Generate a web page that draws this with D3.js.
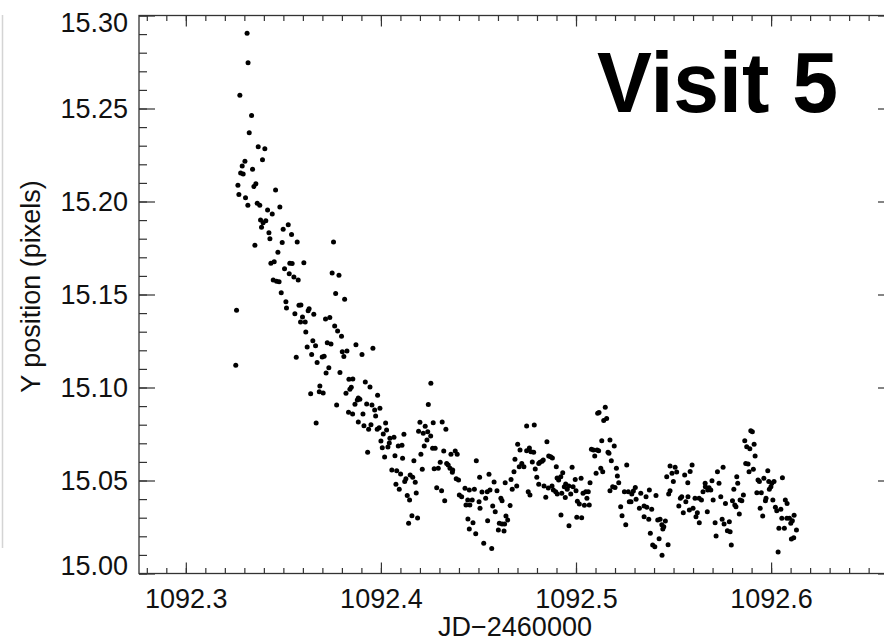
<!DOCTYPE html>
<html>
<head>
<meta charset="utf-8">
<script src="https://cdn.jsdelivr.net/npm/d3@7"></script>
<style>
  body { margin: 0; background: #fff; }
  text { font-family: "Liberation Sans", Arial, Helvetica, sans-serif; }
</style>
</head>
<body>
<svg id="chart" width="884" height="643"></svg>
<script>
// JD-2460000 of each exposure
const jd = [
  1092.3314,1092.3319,1092.3277,1092.3337,1092.3325,1092.3371,1092.3405,1092.3393,1092.3303,1092.3289,
  1092.3342,1092.3281,1092.3294,1092.3267,1092.3359,1092.3349,1092.3460,1092.3272,1092.3306,1092.3318,
  1092.3366,1092.3379,1092.3419,1092.3443,1092.3482,1092.3383,1092.3396,1092.3410,1092.3388,1092.3525,
  1092.3426,1092.3499,1092.3431,1092.3542,1092.3494,1092.3571,1092.3354,1092.3757,1092.3472,1092.3436,
  1092.3453,1092.3533,1092.3545,1092.3605,1092.3506,1092.3530,1092.3554,1092.3576,1092.3448,1092.3465,
  1092.3478,1092.3750,1092.3785,1092.3489,1092.3768,1092.3814,1092.3513,1092.3516,1092.3580,1092.3590,
  1092.3632,1092.3627,1092.3260,1092.3559,1092.3656,1092.3598,1092.3716,1092.3738,1092.3588,1092.3612,
  1092.3763,1092.3778,1092.3615,1092.3798,1092.3651,1092.3725,1092.3744,1092.3872,1092.3622,1092.3665,
  1092.3959,1092.3802,1092.3826,1092.3645,1092.3903,1092.3810,1092.3566,1092.3699,1092.3709,1092.3673,
  1092.3256,1092.3733,1092.3719,1092.3790,1092.3836,1092.3856,1092.3687,1092.3640,1092.3684,1092.3704,
  1092.3848,1092.3841,1092.3920,1092.3944,1092.3821,1092.3983,1092.3884,1092.3892,1092.3879,1092.3773,
  1092.3867,1092.3927,1092.3954,1092.3968,1092.3995,1092.3834,1092.3855,1092.3908,1092.3973,1092.3668,
  1092.3884,1092.3949,1092.3913,1092.4024,1092.3937,1092.3981,1092.3991,1092.4029,1092.4012,1092.4118,
  1092.4046,1092.4067,1092.4000,1092.4043,1092.4007,1092.4036,1092.4089,1092.4108,1092.3932,1092.4072,
  1092.4019,1092.4111,1092.4169,1092.4056,1092.4081,1092.4101,1092.4150,1092.4163,1092.4128,1092.4122,
  1092.4176,1092.4077,1092.4094,1092.4181,1092.4135,1092.4147,1092.4159,1092.4188,1092.4142,1092.4212,
  1092.4243,1092.4200,1092.4193,1092.4227,1092.4217,1092.4240,1092.4236,1092.4222,1092.4205,1092.4256,
  1092.4268,1092.4314,1092.4333,1092.4255,1092.4265,1092.4278,1092.4304,1092.4322,1092.4337,1092.4345,
  1092.4354,1092.4368,1092.4359,1092.4381,1092.4391,1092.4294,1092.4273,1092.4286,1092.4311,1092.4327,
  1092.4386,1092.4398,1092.4366,1092.4402,1092.4414,1092.4431,1092.4453,1092.4479,1092.4489,1092.4506,
  1092.4436,1092.4456,1092.4445,1092.4468,1092.4503,1092.4446,1092.4453,1092.4472,1092.4486,1092.4518,
  1092.4537,1092.4545,1092.4554,1092.4508,1092.4527,1092.4547,1092.4568,1092.4559,1092.4580,1092.4573,
  1092.4586,1092.4595,1092.4602,1092.4607,1092.4615,1092.4621,1092.4631,1092.4621,1092.4634,1092.4641,
  1092.4650,1092.4637,1092.4662,1092.4673,1092.4667,1092.4682,1092.4687,1092.4696,1092.4701,1092.4709,
  1092.4713,1092.4722,1092.4733,1092.4747,1092.4755,1092.4764,1092.4747,1092.4761,1092.4769,1092.4783,
  1092.4776,1092.4786,1092.4791,1092.4799,1092.4809,1092.4809,1092.4815,1092.4826,1092.4832,1092.4845,
  1092.4851,1092.4836,1092.4860,1092.4870,1092.4879,1092.4858,1092.4877,1092.4899,1092.4884,1092.4896,
  1092.4903,1092.4911,1092.4904,1092.4922,1092.4923,1092.4932,1092.4927,1092.4940,1092.4945,1092.4947,
  1092.4955,1092.4963,1092.4964,1092.4973,1092.4980,1092.4985,1092.4996,1092.5000,1092.5004,1092.5007,
  1092.5017,1092.5026,1092.5029,1092.5036,1092.5043,1092.5050,1092.5056,1092.5063,1092.5068,1092.5072,
  1092.5079,1092.5089,1092.5096,1092.5103,1092.5108,1092.5111,1092.5116,1092.5118,1092.5127,1092.5132,
  1092.5137,1092.5142,1092.5150,1092.5157,1092.5164,1092.5169,1092.5174,1092.5181,1092.5174,1092.5188,
  1092.5196,1092.5200,1092.5207,1092.5212,1092.5219,1092.5229,1092.5236,1092.5248,1092.5255,1092.5260,
  1092.5268,1092.5273,1092.5286,1092.5294,1092.5304,1092.5282,1092.5308,1092.5332,1092.5325,1092.5349,
  1092.5359,1092.5349,1092.5363,1092.5376,1092.5373,1092.5388,1092.5410,1092.5381,1092.5393,1092.5404,
  1092.5426,1092.5419,1092.5431,1092.5440,1092.5458,1092.5450,1092.5445,1092.5472,1092.5441,1092.5465,
  1092.5475,1092.5482,1092.5482,1092.5499,1092.5492,1092.5508,1092.5516,1092.5527,1092.5535,1092.5542,
  1092.5550,1092.5563,1092.5557,1092.5573,1092.5581,1092.5585,1092.5595,1092.5574,1092.5600,1092.5610,
  1092.5615,1092.5622,1092.5632,1092.5631,1092.5643,1092.5651,1092.5662,1092.5663,1092.5673,1092.5675,
  1092.5682,1092.5691,1092.5697,1092.5703,1092.5713,1092.5718,1092.5725,1092.5733,1092.5742,1092.5749,
  1092.5754,1092.5759,1092.5766,1092.5776,1092.5786,1092.5790,1092.5796,1092.5802,1092.5809,1092.5814,
  1092.5820,1092.5824,1092.5829,1092.5837,1092.5841,1092.5850,1092.5858,1092.5865,1092.5870,1092.5875,
  1092.5882,1092.5891,1092.5887,1092.5896,1092.5904,1092.5909,1092.5913,1092.5918,1092.5927,1092.5933,
  1092.5944,1092.5940,1092.5950,1092.5957,1092.5963,1092.5971,1092.5974,1092.5983,1092.5988,1092.5991,
  1092.5999,1092.6004,1092.6009,1092.6015,1092.6022,1092.6029,1092.6036,1092.6040,1092.6050,1092.6058,
  1092.6055,1092.6068,1092.6073,1092.6082,1092.6081,1092.6094,1092.6101,1092.6109,1092.6118,1092.6104,
  1092.6116,1092.6130
];

// Y position (pixels)
const ypos = [
  15.2904,15.2746,15.2571,15.2463,15.2370,15.2295,15.2284,15.2225,15.2216,15.2191,
  15.2173,15.2153,15.2148,15.2087,15.2096,15.2080,15.2062,15.2038,15.2020,15.1980,
  15.1990,15.1980,15.1954,15.1933,15.1970,15.1901,15.1886,15.1897,15.1861,15.1875,
  15.1832,15.1851,15.1800,15.1822,15.1779,15.1782,15.1765,15.1782,15.1727,15.1668,
  15.1676,15.1668,15.1666,15.1671,15.1639,15.1612,15.1594,15.1578,15.1578,15.1571,
  15.1569,15.1616,15.1603,15.1510,15.1506,15.1474,15.1461,15.1427,15.1442,15.1444,
  15.1424,15.1413,15.1415,15.1397,15.1394,15.1379,15.1368,15.1377,15.1352,15.1352,
  15.1331,15.1304,15.1298,15.1275,15.1252,15.1241,15.1234,15.1230,15.1218,15.1225,
  15.1211,15.1192,15.1196,15.1178,15.1178,15.1166,15.1162,15.1164,15.1168,15.1135,
  15.1119,15.1106,15.1078,15.1080,15.1044,15.1046,15.1008,15.0967,15.0977,15.0970,
  15.1001,15.0990,15.1030,15.1003,15.0969,15.0958,15.0944,15.0937,15.0933,15.0906,
  15.0910,15.0911,15.0906,15.0879,15.0888,15.0867,15.0858,15.0858,15.0847,15.0809,
  15.0815,15.0800,15.0795,15.0809,15.0775,15.0775,15.0784,15.0772,15.0750,15.0748,
  15.0727,15.0732,15.0712,15.0702,15.0676,15.0680,15.0685,15.0689,15.0652,15.0633,
  15.0626,15.0619,15.0606,15.0556,15.0553,15.0535,15.0530,15.0517,15.0510,15.0494,
  15.0490,15.0480,15.0453,15.0433,15.0420,15.0395,15.0311,15.0298,15.0270,15.0560,
  15.0908,15.0813,15.0765,15.0791,15.0754,15.0762,15.0718,15.0686,15.0641,15.1023,
  15.0811,15.0815,15.0775,15.0739,15.0673,15.0673,15.0598,15.0659,15.0592,15.0583,
  15.0566,15.0556,15.0641,15.0659,15.0641,15.0566,15.0563,15.0461,15.0445,15.0391,
  15.0510,15.0503,15.0544,15.0422,15.0413,15.0458,15.0449,15.0453,15.0606,15.0517,
  15.0368,15.0368,15.0395,15.0395,15.0386,15.0293,15.0239,15.0273,15.0214,15.0438,
  15.0404,15.0440,15.0533,15.0351,15.0162,15.0284,15.0135,15.0449,15.0492,15.0363,
  15.0332,15.0445,15.0234,15.0270,15.0404,15.0391,15.0229,15.0266,15.0266,15.0309,
  15.0288,15.0488,15.0365,15.0453,15.0506,15.0547,15.0614,15.0470,15.0695,15.0574,
  15.0664,15.0592,15.0574,15.0793,15.0440,15.0422,15.0660,15.0675,15.0655,15.0652,
  15.0600,15.0798,15.0562,15.0517,15.0480,15.0592,15.0598,15.0603,15.0610,15.0410,
  15.0709,15.0470,15.0632,15.0628,15.0621,15.0460,15.0470,15.0574,15.0449,15.0440,
  15.0513,15.0503,15.0427,15.0520,15.0315,15.0542,15.0431,15.0467,15.0408,15.0481,
  15.0453,15.0470,15.0257,15.0427,15.0571,15.0467,15.0506,15.0445,15.0302,15.0388,
  15.0374,15.0512,15.0300,15.0431,15.0367,15.0440,15.0404,15.0440,15.0368,15.0488,
  15.0668,15.0664,15.0632,15.0539,15.0664,15.0861,15.0660,15.0865,15.0566,15.0714,
  15.0547,15.0822,15.0894,15.0834,15.0652,15.0646,15.0718,15.0606,15.0445,15.0467,
  15.0685,15.0463,15.0566,15.0524,15.0488,15.0359,15.0311,15.0440,15.0262,15.0583,
  15.0440,15.0386,15.0427,15.0444,15.0463,15.0386,15.0399,15.0431,15.0351,15.0363,
  15.0413,15.0305,15.0356,15.0449,15.0291,15.0345,15.0420,15.0216,15.0153,15.0144,
  15.0187,15.0288,15.0291,15.0262,15.0282,15.0252,15.0239,15.0155,15.0098,15.0520,
  15.0427,15.0445,15.0578,15.0494,15.0539,15.0571,15.0546,15.0363,15.0404,15.0413,
  15.0327,15.0386,15.0530,15.0488,15.0341,15.0549,15.0583,15.0413,15.0351,15.0404,
  15.0305,15.0327,15.0273,15.0404,15.0395,15.0440,15.0485,15.0467,15.0332,15.0449,
  15.0461,15.0449,15.0499,15.0395,15.0273,15.0202,15.0547,15.0485,15.0413,15.0291,
  15.0571,15.0266,15.0377,15.0230,15.0278,15.0225,15.0153,15.0391,15.0453,15.0368,
  15.0359,15.0520,15.0485,15.0320,15.0395,15.0391,15.0422,15.0714,15.0592,15.0682,
  15.0589,15.0671,15.0547,15.0768,15.0762,15.0560,15.0695,15.0632,15.0434,15.0503,
  15.0351,15.0494,15.0434,15.0309,15.0512,15.0391,15.0404,15.0553,15.0494,15.0453,
  15.0467,15.0485,15.0395,15.0494,15.0356,15.0338,15.0116,15.0243,15.0345,15.0515,
  15.0297,15.0243,15.0395,15.0377,15.0297,15.0297,15.0270,15.0284,15.0313,15.0185,
  15.0192,15.0234
];

const xMajor = [1092.3, 1092.4, 1092.5, 1092.6];
const xTickLabels = ["1092.3", "1092.4", "1092.5", "1092.6"];
const yMajor = [15.00, 15.05, 15.10, 15.15, 15.20, 15.25, 15.30];
const yTickLabels = ["15.00", "15.05", "15.10", "15.15", "15.20", "15.25", "15.30"];

const xTitle = "JD\u22122460000";
const yTitle = "Y position (pixels)";
const panelLabel = "Visit 5";

const points = jd.map((d, i) => ({ t: d, v: ypos[i] }));

const svg = d3.select("#chart");
const plotL = 139, plotR = 894, plotT = 15.5, plotB = 573.5;

const x = d3.scaleLinear().domain([1092.276, 1092.663]).range([plotL, plotR]);
const y = d3.scaleLinear().domain([15.0, 15.3]).range([plotB, plotT]);

const xMinor = d3.range(28, 67).map(i => 1092 + i / 100);
const yMinor = d3.range(0, 31).map(i => 15 + i / 100);

const ink = "#333";

// left gray rule at the panel edge
svg.append("line")
  .attr("x1", 2.5).attr("x2", 2.5)
  .attr("y1", 15).attr("y2", 548)
  .attr("stroke", "#d4d4d4").attr("stroke-width", 1.5);

function styleAxis(g) {
  g.select(".domain").remove();
  g.selectAll(".tick line").attr("stroke", ink).attr("stroke-width", 1.2);
  g.selectAll("text").attr("fill", "#111").attr("font-size", 27)
    .attr("font-family", '"Liberation Sans", Arial, sans-serif');
}

// bottom
svg.append("g").attr("transform", `translate(0,${plotB})`)
  .call(d3.axisBottom(x).tickValues(xMinor).tickSize(-5.5).tickFormat(""))
  .call(styleAxis);
svg.append("g").attr("transform", `translate(0,${plotB})`)
  .call(d3.axisBottom(x).tickValues(xMajor).tickSize(-11).tickPadding(15)
    .tickFormat((d, i) => xTickLabels[i]))
  .call(styleAxis);

// top
svg.append("g").attr("transform", `translate(0,${plotT})`)
  .call(d3.axisTop(x).tickValues(xMinor).tickSize(-5.5).tickFormat(""))
  .call(styleAxis);
svg.append("g").attr("transform", `translate(0,${plotT})`)
  .call(d3.axisTop(x).tickValues(xMajor).tickSize(-11).tickFormat(""))
  .call(styleAxis);

// left
svg.append("g").attr("transform", `translate(${plotL},0)`)
  .call(d3.axisLeft(y).tickValues(yMinor).tickSize(-8).tickFormat(""))
  .call(styleAxis);
const yAxisG = svg.append("g").attr("transform", `translate(${plotL},0)`)
  .call(d3.axisLeft(y).tickValues(yMajor).tickSize(-16).tickPadding(11)
    .tickFormat((d, i) => yTickLabels[i]))
  .call(styleAxis);
// end labels are pulled in toward the plot as in the original
yAxisG.selectAll(".tick text")
  .attr("y", (d, i) => i === 0 ? -8 : (i === yMajor.length - 1 ? 7 : 0));

// right
svg.append("g").attr("transform", `translate(${plotR},0)`)
  .call(d3.axisRight(y).tickValues(yMinor).tickSize(-8).tickFormat(""))
  .call(styleAxis);
svg.append("g").attr("transform", `translate(${plotR},0)`)
  .call(d3.axisRight(y).tickValues(yMajor).tickSize(-16).tickFormat(""))
  .call(styleAxis);

// frame
svg.append("rect")
  .attr("x", plotL).attr("y", plotT)
  .attr("width", plotR - plotL).attr("height", plotB - plotT)
  .attr("fill", "none").attr("stroke", ink).attr("stroke-width", 1.3);

// data
svg.append("g").selectAll("circle")
  .data(points)
  .join("circle")
  .attr("cx", d => x(d.t))
  .attr("cy", d => y(d.v))
  .attr("r", 2.5)
  .attr("fill", "#000");

// titles
svg.append("text")
  .attr("x", 515).attr("y", 636)
  .attr("text-anchor", "middle")
  .attr("font-size", 27).attr("fill", "#111")
  .text(xTitle);

svg.append("text")
  .attr("transform", "translate(40,286.5) rotate(-90)")
  .attr("text-anchor", "middle")
  .attr("font-size", 27).attr("fill", "#111")
  .text(yTitle);

svg.append("text")
  .attr("x", 597).attr("y", 112)
  .attr("font-size", 86).attr("font-weight", "bold").attr("fill", "#000")
  .attr("textLength", 241).attr("lengthAdjust", "spacingAndGlyphs")
  .text(panelLabel);
</script>
</body>
</html>
